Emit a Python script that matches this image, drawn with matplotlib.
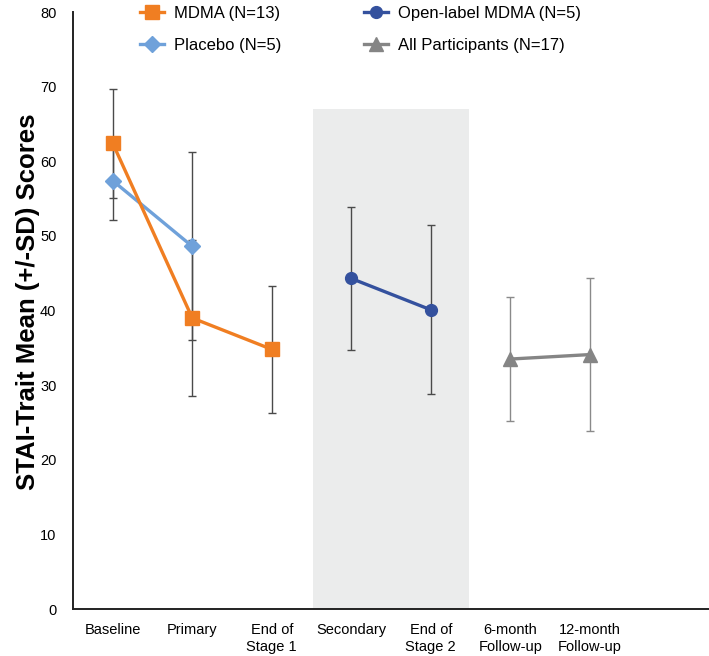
import matplotlib
matplotlib.use("Agg")
import matplotlib.pyplot as plt

plt.rcParams["font.family"] = ["Liberation Sans", "DejaVu Sans"]

categories = ["Baseline", "Primary", "End of\nStage 1", "Secondary", "End of\nStage 2",
              "6-month\nFollow-up", "12-month\nFollow-up", ""]

mdma_x = [0, 1, 2]
mdma_mean = [62.4, 39.0, 34.8]
mdma_sd = [7.3, 10.5, 8.5]

placebo_x = [0, 1]
placebo_mean = [57.4, 48.6]
placebo_sd = [5.3, 12.6]

open_x = [3, 4]
open_mean = [44.3, 40.1]
open_sd = [9.6, 11.3]

all_x = [5, 6]
all_mean = [33.5, 34.1]
all_sd = [8.3, 10.3]

fig = plt.figure(figsize=(7.09, 6.56), dpi=100)
ax = fig.add_axes([0.103, 0.0716, 0.897, 0.91])

# stage 2 shading
ax.axvspan(2.52, 4.48, ymin=0, ymax=67 / 80, color="#EBECEC", zorder=0, lw=0)

err_kw = dict(fmt="none", elinewidth=1.0, capsize=3, capthick=1.0, zorder=2)
ax.errorbar(mdma_x, mdma_mean, yerr=mdma_sd, ecolor="#4a4a4a", **err_kw)
ax.errorbar(placebo_x, placebo_mean, yerr=placebo_sd, ecolor="#4a4a4a", **err_kw)
ax.errorbar(open_x, open_mean, yerr=open_sd, ecolor="#4a4a4a", **err_kw)
ax.errorbar(all_x, all_mean, yerr=all_sd, ecolor="#8a8a8a", **err_kw)

ax.plot(placebo_x, placebo_mean, color="#6FA1DA", marker="D", markersize=8.5, lw=2.4,
        label="Placebo (N=5)", zorder=3)
ax.plot(mdma_x, mdma_mean, color="#F07E22", marker="s", markersize=9.5, lw=2.4,
        label="MDMA (N=13)", zorder=4)
ax.plot(open_x, open_mean, color="#34519E", marker="o", markersize=8.5, lw=2.4,
        label="Open-label MDMA (N=5)", zorder=4)
ax.plot(all_x, all_mean, color="#858585", marker="^", markersize=9.5, lw=2.4,
        label="All Participants (N=17)", zorder=4)

ax.set_xlim(-0.5, 7.5)
ax.set_ylim(0, 80)
ax.set_yticks(range(0, 81, 10))
ax.set_xticks(range(len(categories)))
ax.set_xticklabels(categories, fontsize=10.5, linespacing=1.25)
ax.tick_params(axis="both", length=0, labelsize=10.5)
ax.tick_params(axis="x", pad=10)
ax.tick_params(axis="y", pad=12)

for s in ["top", "right"]:
    ax.spines[s].set_visible(False)
for s in ["left", "bottom"]:
    ax.spines[s].set_linewidth(1.4)
    ax.spines[s].set_color("#222222")

ax.set_ylabel("STAI-Trait Mean (+/-SD) Scores", fontsize=18.5, fontweight="bold")
ax.yaxis.set_label_coords(-0.052, 0.515)

h, l = ax.get_legend_handles_labels()
order = [1, 0, 2, 3]
ax.legend([h[i] for i in order], [l[i] for i in order], ncol=2, frameon=False,
          fontsize=12, loc="upper left", bbox_to_anchor=(0.082, 1.035),
          handlelength=1.4, handletextpad=0.6, columnspacing=5.0, labelspacing=1.0)

fig.savefig("out.png", dpi=100)
